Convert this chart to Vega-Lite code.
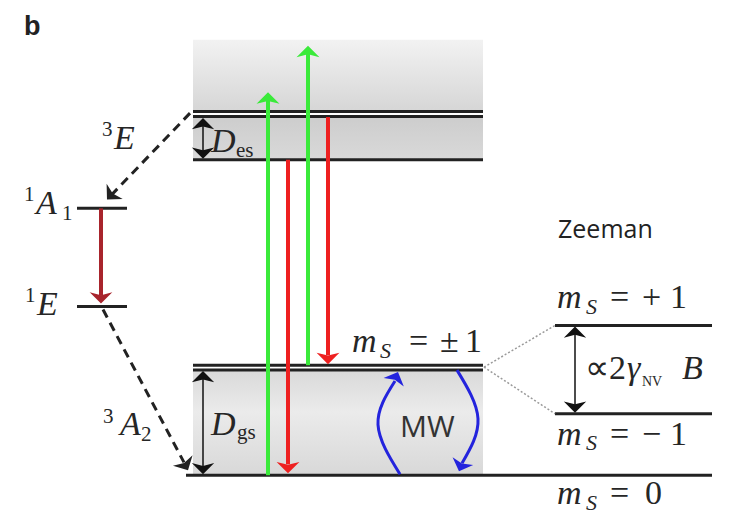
{
  "$schema": "https://vega.github.io/schema/vega-lite/v6.json",
  "width": 736,
  "height": 514,
  "autosize": {"type": "fit", "contains": "padding"},
  "padding": 0,
  "background": "white",
  "config": {"view": {"stroke": null}},
  "datasets": {
    "levels": [
      {"x": 193, "x2": 483, "y": 112.5},
      {"x": 193, "x2": 483, "y": 117.5},
      {"x": 193, "x2": 483, "y": 161},
      {"x": 77, "x2": 127, "y": 210},
      {"x": 77, "x2": 127, "y": 309},
      {"x": 193, "x2": 483, "y": 368},
      {"x": 193, "x2": 483, "y": 373},
      {"x": 186, "x2": 712, "y": 479},
      {"x": 555, "x2": 712, "y": 328},
      {"x": 555, "x2": 712, "y": 417}
    ],
    "dotted": [
      {"x": 484, "y": 370, "x2": 555, "y2": 328},
      {"x": 484, "y": 370, "x2": 555, "y2": 417}
    ],
    "dashed": [
      {"x": 190, "y": 114, "x2": 111, "y2": 197},
      {"x": 103, "y": 312, "x2": 184, "y2": 466}
    ],
    "shafts": [
      {"kind": "green", "x": 268, "y": 479, "y2": 100},
      {"kind": "green", "x": 308, "y": 368, "y2": 53},
      {"kind": "red", "x": 288, "y": 161, "y2": 468},
      {"kind": "red", "x": 328, "y": 118, "y2": 358},
      {"kind": "darkred", "x": 101, "y": 210, "y2": 298}
    ],
    "thin": [
      {"x": 203, "y": 121, "y2": 158},
      {"x": 203, "y": 376, "y2": 476},
      {"x": 575, "y": 331, "y2": 414}
    ],
    "heads": [
      {"kind": "green", "x": 268, "y": 93, "dir": 0},
      {"kind": "green", "x": 308, "y": 46, "dir": 0},
      {"kind": "red", "x": 288, "y": 477, "dir": 180},
      {"kind": "red", "x": 328, "y": 367, "dir": 180},
      {"kind": "darkred", "x": 101, "y": 306, "dir": 180},
      {"kind": "black", "x": 203, "y": 119, "dir": 0},
      {"kind": "black", "x": 203, "y": 160, "dir": 180},
      {"kind": "black", "x": 203, "y": 374, "dir": 0},
      {"kind": "black", "x": 203, "y": 478, "dir": 180},
      {"kind": "black", "x": 575, "y": 329, "dir": 0},
      {"kind": "black", "x": 575, "y": 416, "dir": 180},
      {"kind": "dash", "x": 107, "y": 201, "dir": 223.6},
      {"kind": "dash", "x": 188, "y": 474, "dir": 151.9},
      {"kind": "blue", "x": 398, "y": 375, "dir": 23},
      {"kind": "blue", "x": 459, "y": 475, "dir": 200.6}
    ],
    "mw": [
      {"arc": "up", "order": 1, "x": 400, "y": 478},
      {"arc": "up", "order": 2, "x": 378, "y": 428},
      {"arc": "up", "order": 3, "x": 395, "y": 384},
      {"arc": "down", "order": 1, "x": 457, "y": 373},
      {"arc": "down", "order": 2, "x": 478, "y": 422},
      {"arc": "down", "order": 3, "x": 462, "y": 467}
    ],
    "labels": [
      {"t": "E", "x": 114, "y": 150, "role": "it"},
      {"t": "3", "x": 102, "y": 137, "role": "rms"},
      {"t": "A", "x": 36, "y": 216, "role": "it"},
      {"t": "1", "x": 24, "y": 203, "role": "rms"},
      {"t": "1", "x": 62, "y": 222, "role": "rms"},
      {"t": "E", "x": 37, "y": 317, "role": "it"},
      {"t": "1", "x": 25, "y": 304, "role": "rms"},
      {"t": "A", "x": 120, "y": 438, "role": "it"},
      {"t": "3", "x": 103, "y": 426, "role": "rms"},
      {"t": "2", "x": 141, "y": 444, "role": "rms"},
      {"t": "D", "x": 211, "y": 153, "role": "it"},
      {"t": "es", "x": 236, "y": 158, "role": "rms"},
      {"t": "D", "x": 211, "y": 438, "role": "it"},
      {"t": "gs", "x": 237, "y": 442, "role": "rms"},
      {"t": "m", "x": 352, "y": 355, "role": "it"},
      {"t": "S", "x": 380, "y": 361, "role": "its"},
      {"t": "=", "x": 409, "y": 355, "role": "rm"},
      {"t": "±", "x": 440, "y": 355, "role": "rm"},
      {"t": "1", "x": 465, "y": 355, "role": "rm"},
      {"t": "m", "x": 557, "y": 310, "role": "it"},
      {"t": "S", "x": 586, "y": 316, "role": "its"},
      {"t": "=", "x": 610, "y": 310, "role": "rm"},
      {"t": "+", "x": 642, "y": 310, "role": "rm"},
      {"t": "1", "x": 670, "y": 310, "role": "rm"},
      {"t": "∝", "x": 585, "y": 382, "role": "rm"},
      {"t": "2", "x": 609, "y": 382, "role": "rm"},
      {"t": "γ", "x": 627, "y": 382, "role": "it"},
      {"t": "NV", "x": 642, "y": 389, "role": "sc"},
      {"t": "B", "x": 682, "y": 382, "role": "it"},
      {"t": "m", "x": 557, "y": 448, "role": "it"},
      {"t": "S", "x": 586, "y": 454, "role": "its"},
      {"t": "=", "x": 610, "y": 448, "role": "rm"},
      {"t": "−", "x": 642, "y": 448, "role": "rm"},
      {"t": "1", "x": 670, "y": 448, "role": "rm"},
      {"t": "m", "x": 557, "y": 508, "role": "it"},
      {"t": "S", "x": 586, "y": 514, "role": "its"},
      {"t": "=", "x": 610, "y": 508, "role": "rm"},
      {"t": "0", "x": 645, "y": 508, "role": "rm"},
      {"t": "Zeeman", "x": 558, "y": 240, "role": "sans"},
      {"t": "MW", "x": 400, "y": 440, "role": "mw"},
      {"t": "b", "x": 24, "y": 35, "role": "bold"}
    ]
  },
  "encoding": {
    "x": {"field": "x", "type": "quantitative", "scale": {"domain": [0, 736], "nice": false, "zero": false}, "axis": null},
    "y": {"field": "y", "type": "quantitative", "scale": {"domain": [0, 514], "nice": false, "zero": false, "reverse": true}, "axis": null}
  },
  "layer": [
    {
      "data": {"values": [{"x": 193, "x2": 483, "y": 40, "y2": 112}]},
      "mark": {"type": "rect", "fill": {"gradient": "linear", "x1": 0, "y1": 0, "x2": 0, "y2": 1, "stops": [{"offset": 0, "color": "#f2f2f2"}, {"offset": 1, "color": "#d6d6d6"}]}},
      "encoding": {"x2": {"field": "x2"}, "y2": {"field": "y2"}}
    },
    {
      "data": {"values": [{"x": 193, "x2": 483, "y": 118, "y2": 161}]},
      "mark": {"type": "rect", "fill": {"gradient": "linear", "x1": 0, "y1": 0, "x2": 0, "y2": 1, "stops": [{"offset": 0, "color": "#cdcdcd"}, {"offset": 1, "color": "#d9d9d9"}]}},
      "encoding": {"x2": {"field": "x2"}, "y2": {"field": "y2"}}
    },
    {
      "data": {"values": [{"x": 193, "x2": 483, "y": 373, "y2": 479}]},
      "mark": {"type": "rect", "fill": {"gradient": "linear", "x1": 0, "y1": 0, "x2": 0, "y2": 1, "stops": [{"offset": 0, "color": "#d9d9d9"}, {"offset": 0.4, "color": "#ebebeb"}, {"offset": 1, "color": "#d8d8d8"}]}},
      "encoding": {"x2": {"field": "x2"}, "y2": {"field": "y2"}}
    },
    {
      "data": {"name": "levels"},
      "mark": {"type": "rule", "color": "#222222", "strokeWidth": 3},
      "encoding": {"x2": {"field": "x2"}}
    },
    {
      "data": {"name": "dotted"},
      "mark": {"type": "rule", "color": "#9a9a9a", "strokeWidth": 1.5, "strokeDash": [2, 2]},
      "encoding": {"x2": {"field": "x2"}, "y2": {"field": "y2"}}
    },
    {
      "data": {"name": "dashed"},
      "mark": {"type": "rule", "color": "#222222", "strokeWidth": 3, "strokeDash": [9, 6]},
      "encoding": {"x2": {"field": "x2"}, "y2": {"field": "y2"}}
    },
    {
      "data": {"name": "shafts"},
      "mark": {"type": "rule", "strokeWidth": 4},
      "encoding": {
        "y2": {"field": "y2"},
        "color": {"field": "kind", "type": "nominal", "scale": {"domain": ["green", "red", "darkred", "black", "dash", "blue"], "range": ["#3aea3a", "#ee2020", "#a8242c", "#111111", "#222222", "#2424dd"]}, "legend": null}
      }
    },
    {
      "data": {"name": "thin"},
      "mark": {"type": "rule", "strokeWidth": 1.5, "color": "#111111"},
      "encoding": {"y2": {"field": "y2"}}
    },
    {
      "data": {"name": "mw"},
      "mark": {"type": "line", "color": "#2424dd", "strokeWidth": 3, "interpolate": "natural"},
      "encoding": {"detail": {"field": "arc"}, "order": {"field": "order", "type": "quantitative"}}
    },
    {
      "data": {"name": "heads"},
      "mark": {"type": "point", "shape": "M -1 1 L 0 0 L 1 1 L 0 0.75 Z", "filled": true, "opacity": 1, "strokeWidth": 0},
      "encoding": {
        "color": {"field": "kind", "type": "nominal", "scale": {"domain": ["green", "red", "darkred", "black", "dash", "blue"], "range": ["#3aea3a", "#ee2020", "#a8242c", "#111111", "#222222", "#2424dd"]}, "legend": null},
        "size": {"field": "kind", "type": "nominal", "scale": {"domain": ["green", "red", "darkred", "black", "dash", "blue"], "range": [529, 484, 256, 100, 225, 256]}, "legend": null},
        "angle": {"field": "dir", "type": "quantitative", "scale": null}
      }
    },
    {
      "data": {"name": "labels"},
      "transform": [{"filter": "datum.role === 'it'"}],
      "mark": {"type": "text", "font": "Liberation Serif", "fontStyle": "italic", "fontSize": 34, "align": "left", "baseline": "alphabetic", "color": "#262626"},
      "encoding": {"text": {"field": "t"}}
    },
    {
      "data": {"name": "labels"},
      "transform": [{"filter": "datum.role === 'its'"}],
      "mark": {"type": "text", "font": "Liberation Serif", "fontStyle": "italic", "fontSize": 22, "align": "left", "baseline": "alphabetic", "color": "#262626"},
      "encoding": {"text": {"field": "t"}}
    },
    {
      "data": {"name": "labels"},
      "transform": [{"filter": "datum.role === 'rm'"}],
      "mark": {"type": "text", "font": "Liberation Serif", "fontSize": 34, "align": "left", "baseline": "alphabetic", "color": "#262626"},
      "encoding": {"text": {"field": "t"}}
    },
    {
      "data": {"name": "labels"},
      "transform": [{"filter": "datum.role === 'rms'"}],
      "mark": {"type": "text", "font": "Liberation Serif", "fontSize": 21, "align": "left", "baseline": "alphabetic", "color": "#262626"},
      "encoding": {"text": {"field": "t"}}
    },
    {
      "data": {"name": "labels"},
      "transform": [{"filter": "datum.role === 'sc'"}],
      "mark": {"type": "text", "font": "Liberation Serif", "fontSize": 14, "align": "left", "baseline": "alphabetic", "color": "#262626"},
      "encoding": {"text": {"field": "t"}}
    },
    {
      "data": {"name": "labels"},
      "transform": [{"filter": "datum.role === 'sans'"}],
      "mark": {"type": "text", "font": "Open Sans", "fontSize": 25, "align": "left", "baseline": "alphabetic", "color": "#222222"},
      "encoding": {"text": {"field": "t"}}
    },
    {
      "data": {"name": "labels"},
      "transform": [{"filter": "datum.role === 'mw'"}],
      "mark": {"type": "text", "font": "Open Sans", "fontSize": 30, "align": "left", "baseline": "alphabetic", "color": "#333333"},
      "encoding": {"text": {"field": "t"}}
    },
    {
      "data": {"name": "labels"},
      "transform": [{"filter": "datum.role === 'bold'"}],
      "mark": {"type": "text", "font": "Liberation Sans", "fontWeight": "bold", "fontSize": 27, "align": "left", "baseline": "alphabetic", "color": "#222222"},
      "encoding": {"text": {"field": "t"}}
    }
  ]
}
